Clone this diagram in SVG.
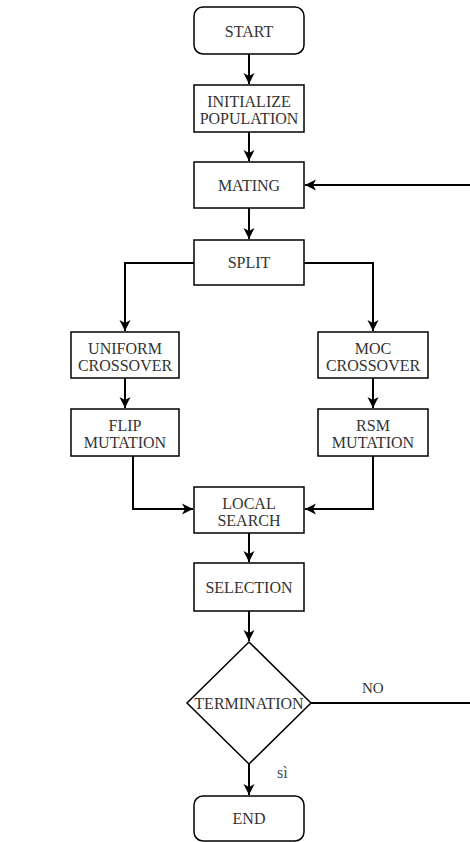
<svg xmlns="http://www.w3.org/2000/svg" width="470" height="842" viewBox="0 0 470 842">
<defs>
<marker id="arr" markerUnits="userSpaceOnUse" markerWidth="12" markerHeight="12" viewBox="0 0 12 12" refX="11" refY="6" orient="auto">
<path d="M0,0.5 L11,6 L0,11.5 L3,6 z" fill="#000"/>
</marker>
<style>
.box{fill:#fff;stroke:#000;stroke-width:1.5}
.t{font-family:'Liberation Serif','DejaVu Serif',serif;font-size:16px;fill:#333;text-anchor:middle}
.c{fill:none;stroke:#000;stroke-width:2}
.lbl{font-family:'Liberation Serif','DejaVu Serif',serif;font-size:15px;fill:#333}
</style>
</defs>
<rect width="470" height="842" fill="#fff"/>
<g id="connectors">
<path class="c" d="M249,54 V84" marker-end="url(#arr)"/>
<path class="c" d="M249,132 V161" marker-end="url(#arr)"/>
<path class="c" d="M249,208 V239" marker-end="url(#arr)"/>
<path class="c" d="M194,263 H125 V331" marker-end="url(#arr)"/>
<path class="c" d="M304,263 H373 V331" marker-end="url(#arr)"/>
<path class="c" d="M125,378 V408" marker-end="url(#arr)"/>
<path class="c" d="M373,378 V408" marker-end="url(#arr)"/>
<path class="c" d="M133,456 V509 H193" marker-end="url(#arr)"/>
<path class="c" d="M373,456 V509 H305" marker-end="url(#arr)"/>
<path class="c" d="M249,533 V562" marker-end="url(#arr)"/>
<path class="c" d="M249,611 V641" marker-end="url(#arr)"/>
<path class="c" d="M249,764 V795" marker-end="url(#arr)"/>
<path class="c" d="M311,703 H470"/>
<path class="c" d="M470,185 H305" marker-end="url(#arr)"/>
<text class="lbl" x="362" y="693">NO</text>
<text class="lbl" x="277" y="778" style="fill:#3d4a66;font-size:16px">sì</text>
</g>
<g id="start">
<rect class="box" x="194" y="7" width="110" height="47" rx="9"/>
<text class="t" x="249" y="37">START</text>
</g>
<g id="initialize">
<rect class="box" x="194" y="85" width="110" height="47"/>
<text class="t" x="249" y="107">INITIALIZE</text>
<text class="t" x="249" y="124">POPULATION</text>
</g>
<g id="mating">
<rect class="box" x="194" y="162" width="110" height="46"/>
<text class="t" x="249" y="191">MATING</text>
</g>
<g id="split">
<rect class="box" x="194" y="240" width="110" height="45"/>
<text class="t" x="249" y="268">SPLIT</text>
</g>
<g id="uniform">
<rect class="box" x="71" y="332" width="108" height="46"/>
<text class="t" x="125" y="354">UNIFORM</text>
<text class="t" x="125" y="371">CROSSOVER</text>
</g>
<g id="moc">
<rect class="box" x="318" y="332" width="110" height="46"/>
<text class="t" x="373" y="354">MOC</text>
<text class="t" x="373" y="371">CROSSOVER</text>
</g>
<g id="flip">
<rect class="box" x="71" y="409" width="108" height="47"/>
<text class="t" x="125" y="431">FLIP</text>
<text class="t" x="125" y="448">MUTATION</text>
</g>
<g id="rsm">
<rect class="box" x="318" y="409" width="110" height="47"/>
<text class="t" x="373" y="431">RSM</text>
<text class="t" x="373" y="448">MUTATION</text>
</g>
<g id="local">
<rect class="box" x="194" y="487" width="110" height="46"/>
<text class="t" x="249" y="509">LOCAL</text>
<text class="t" x="249" y="526">SEARCH</text>
</g>
<g id="selection">
<rect class="box" x="194" y="563" width="110" height="48"/>
<text class="t" x="249" y="593">SELECTION</text>
</g>
<g id="termination">
<polygon class="box" points="249,642 311,703 249,764 187,703"/>
<text class="t" x="249" y="709">TERMINATION</text>
</g>
<g id="end">
<rect class="box" x="194" y="796" width="110" height="45" rx="9"/>
<text class="t" x="249" y="824">END</text>
</g>
</svg>
